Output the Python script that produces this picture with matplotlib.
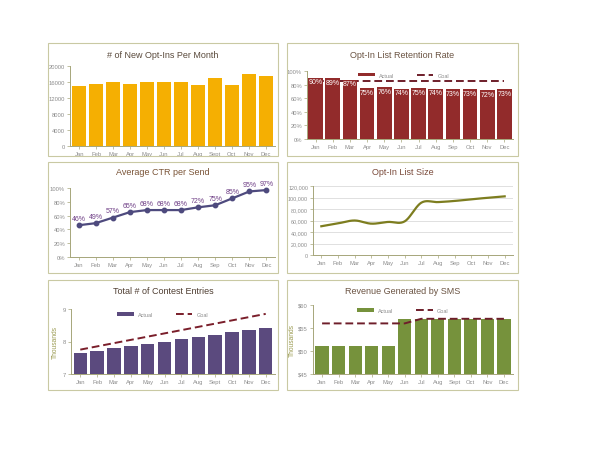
import numpy as np
import matplotlib
matplotlib.use("Agg")
import matplotlib.pyplot as plt
from matplotlib.patches import Rectangle
from matplotlib.ticker import FuncFormatter

plt.rcParams['font.family'] = ['Liberation Sans', 'DejaVu Sans']

months_a = ["Jan", "Feb", "Mar", "Apr", "May", "Jun", "Jul", "Aug", "Sept", "Oct", "Nov", "Dec"]
months_b = ["Jan", "Feb", "Mar", "Apr", "May", "Jun", "Jul", "Aug", "Sep", "Oct", "Nov", "Dec"]

optins = [15000, 15500, 16000, 15600, 16000, 16100, 16000, 15200, 17100, 15300, 18000, 17500]
retention = [90, 89, 87, 75, 76, 74, 75, 74, 73, 73, 72, 73]
retention_goal = [85] * 12
ctr = [46, 49, 57, 65, 68, 68, 68, 72, 75, 85, 95, 97]
list_size = [50000, 55000, 60000, 54500, 57500, 58500, 91000, 92000, 94000, 97000, 99500, 102000]
contest_actual = [7.65, 7.72, 7.79, 7.86, 7.93, 8.00, 8.07, 8.14, 8.21, 8.28, 8.35, 8.42]
contest_goal = [7.75, 7.85, 7.95, 8.05, 8.15, 8.25, 8.35, 8.45, 8.55, 8.65, 8.75, 8.85]
revenue_actual = [51, 51, 51, 51, 51, 56.9, 56.9, 56.9, 56.9, 56.9, 56.9, 56.9]
revenue_goal = [56, 56, 56, 56, 56, 56, 57, 57, 57, 57, 57, 57]

W, H = 600, 464
fig = plt.figure(figsize=(6, 4.64), dpi=100)
fig.patch.set_facecolor('white')

def box(x0, y0, x1, y1):
    fig.patches.append(Rectangle((x0 / W, 1 - y1 / H), (x1 - x0) / W, (y1 - y0) / H,
                                 transform=fig.transFigure, fill=False,
                                 edgecolor='#C9C9A3', linewidth=0.8))

def axes(x0, y0, x1, y1):
    ax = fig.add_axes([x0 / W, 1 - y1 / H, (x1 - x0) / W, (y1 - y0) / H])
    for s in ['top', 'right']:
        ax.spines[s].set_visible(False)
    for s in ['left', 'bottom']:
        ax.spines[s].set_color('#A6A67A')
        ax.spines[s].set_linewidth(0.7)
    ax.tick_params(axis='both', labelsize=4.2, colors='#A6A67A', labelcolor='#8C8C8C',
                   length=2, width=0.5, pad=1.5)
    ax.set_facecolor('none')
    return ax

def legend(ax, bar, line, anchor):
    ax.legend([bar, line], ['Actual', 'Goal'], loc='upper center', bbox_to_anchor=anchor,
              ncol=2, fontsize=4, frameon=False, handlelength=3, columnspacing=4,
              labelcolor='#8C8C8C', handleheight=0.6)

TITLE = '#6B5443'
x = np.arange(12)

# Panel 1
box(48, 44, 278, 157)
ax = axes(70, 67, 275, 147)
ax.bar(x, optins, width=0.82, color='#F5AF02')
ax.set_ylim(0, 20000)
ax.set_yticks([0, 4000, 8000, 12000, 16000, 20000])
ax.set_xticks(x, months_a)
ax.set_xlim(-0.55, 11.55)
fig.text((48 + 278) / 2 / W, 1 - 56 / H, "# of New Opt-Ins Per Month", ha='center', va='center',
         fontsize=6.5, color='#5A4A3C')

# Panel 2
box(287, 44, 518, 157)
ax = axes(307, 72, 513, 140)
b = ax.bar(x, retention, width=0.85, color='#922B2B', zorder=2)
l, = ax.plot(x, retention_goal, color='#6E1E2A', linestyle=(0, (4, 2)), linewidth=1.4, zorder=1)
for xi, v in zip(x, retention):
    ax.text(xi, v - 6, f"{v}%", ha='center', va='center', fontsize=5, color='white', zorder=3)
ax.set_ylim(0, 100)
ax.set_yticks([0, 20, 40, 60, 80, 100])
ax.yaxis.set_major_formatter(FuncFormatter(lambda v, p: f"{int(v)}%"))
ax.set_xticks(x, months_b)
ax.set_xlim(-0.5, 11.5)
legend(ax, b, l, (0.47, 1.05))
fig.text((287 + 518) / 2 / W, 1 - 56 / H, "Opt-In List Retention Rate", ha='center', va='center',
         fontsize=6.5, color=TITLE)

# Panel 3
box(48, 163, 278, 274)
ax = axes(70, 189, 275, 258)
ax.plot(x, ctr, color='#4E4A7E', linewidth=1.6, marker='o', markersize=3.2, clip_on=False)
for xi, v in zip(x, ctr):
    ax.text(xi, v + 5, f"{v}%", ha='center', va='bottom', fontsize=5, color='#6F3F86', clip_on=False)
ax.set_ylim(0, 100)
ax.set_yticks([0, 20, 40, 60, 80, 100])
ax.yaxis.set_major_formatter(FuncFormatter(lambda v, p: f"{int(v)}%"))
ax.set_xticks(x, months_b)
ax.set_xlim(-0.5, 11.5)
fig.text((48 + 278) / 2 / W, 1 - 173 / H, "Average CTR per Send", ha='center', va='center',
         fontsize=6.5, color='#7A5437')

# Panel 4
box(287, 163, 518, 274)
ax = axes(313, 187, 513, 256)
def catmull(xs, ys, n=20):
    xs = np.asarray(xs, float); ys = np.asarray(ys, float)
    px = np.concatenate([[2 * xs[0] - xs[1]], xs, [2 * xs[-1] - xs[-2]]])
    py = np.concatenate([[2 * ys[0] - ys[1]], ys, [2 * ys[-1] - ys[-2]]])
    ox, oy = [], []
    t = np.linspace(0, 1, n, endpoint=False)
    for i in range(1, len(px) - 2):
        for arr, out in ((px, ox), (py, oy)):
            p0, p1, p2, p3 = arr[i - 1], arr[i], arr[i + 1], arr[i + 2]
            out.extend(0.5 * (2 * p1 + (-p0 + p2) * t + (2 * p0 - 5 * p1 + 4 * p2 - p3) * t ** 2
                              + (-p0 + 3 * p1 - 3 * p2 + p3) * t ** 3))
    ox.append(xs[-1]); oy.append(ys[-1])
    return np.array(ox), np.array(oy)
sx, sy = catmull(x, list_size)
ax.plot(sx, sy, color='#7D7D1F', linewidth=1.6, zorder=3)
ax.set_ylim(0, 120000)
ax.set_yticks(np.arange(0, 120001, 20000))
ax.yaxis.set_major_formatter(FuncFormatter(lambda v, p: f"{int(v):,}"))
ax.tick_params(axis='y', labelsize=3.9)
ax.grid(axis='y', color='#DADADA', linewidth=0.6)
ax.set_axisbelow(True)
ax.set_xticks(x, months_b)
ax.set_xlim(-0.5, 11.5)
fig.text((287 + 518) / 2 / W, 1 - 173 / H, "Opt-In List Size", ha='center', va='center',
         fontsize=6.5, color='#7A4A3A')

# Panel 5
box(48, 281, 278, 391)
ax = axes(71, 310, 275, 375)
b = ax.bar(x, contest_actual, width=0.8, color='#5B4A7E', zorder=2)
l, = ax.plot(x, contest_goal, color='#7A1E2A', linestyle=(0, (4, 2)), linewidth=1.4, zorder=3)
ax.set_ylim(7, 9)
ax.set_yticks([7, 8, 9])
ax.set_xticks(x, months_a)
ax.set_xlim(-0.55, 11.55)
ax.set_ylabel("Thousands", fontsize=4.8, color='#9A9A50', labelpad=3)
legend(ax, b, l, (0.45, 1.03))
fig.text((48 + 278) / 2 / W, 1 - 291 / H, "Total # of Contest Entries", ha='center', va='center',
         fontsize=6.5, color='#4F3E32')

# Panel 6
box(287, 281, 518, 391)
ax = axes(313, 306, 513, 375)
b = ax.bar(x, revenue_actual, width=0.8, color='#76923C', zorder=2)
l, = ax.plot(x, revenue_goal, color='#6E1E2A', linestyle=(0, (4, 2)), linewidth=1.4, zorder=3)
ax.set_ylim(45, 60)
ax.set_yticks([45, 50, 55, 60])
ax.yaxis.set_major_formatter(FuncFormatter(lambda v, p: f"${int(v)}"))
ax.set_xticks(x, months_a)
ax.set_xlim(-0.55, 11.55)
ax.set_ylabel("Thousands", fontsize=4.8, color='#9A9A50', labelpad=1.5)
legend(ax, b, l, (0.45, 1.03))
fig.text((287 + 518) / 2 / W, 1 - 291 / H, "Revenue Generated by SMS", ha='center', va='center',
         fontsize=6.5, color=TITLE)

fig.savefig("out.png", dpi=100, facecolor='white')
